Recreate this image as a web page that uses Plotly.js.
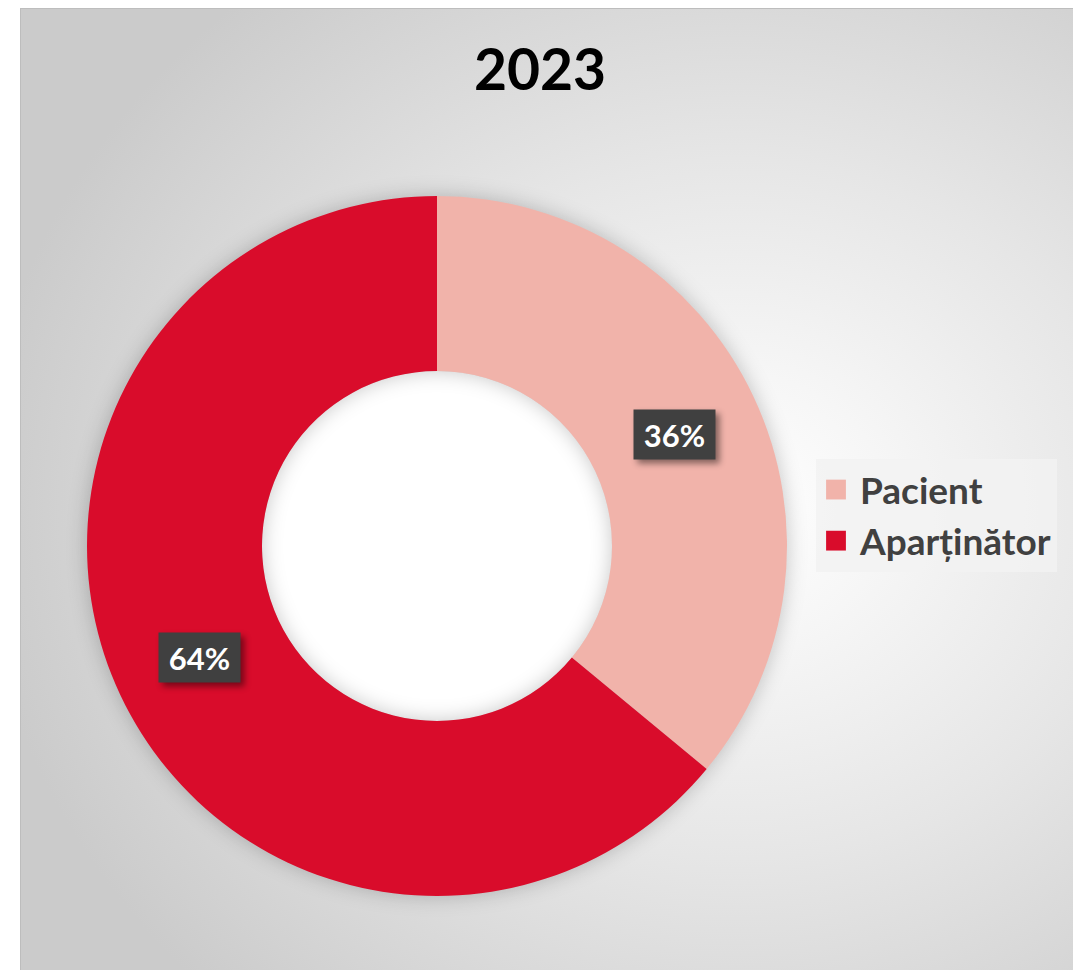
<!DOCTYPE html>
<html>
<head>
<meta charset="utf-8">
<script src="https://cdn.plot.ly/plotly-3.0.1.min.js"></script>
<style>
  html, body { margin: 0; padding: 0; background: #ffffff; }
  #bg {
    position: absolute; left: 20px; top: 8px; width: 1053px; height: 962px;
    background: radial-gradient(ellipse 72% 70% at 68% 52%, #ffffff 0%, #f6f6f6 20%, #e6e6e6 52%, #cbcbcb 100%);
    border-left: 1px solid #bdbdbd; border-top: 1px solid #bdbdbd; box-sizing: border-box;
  }
  #holebg { position: absolute; border-radius: 50%; background: #ffffff; }
  #chart { position: absolute; left: 0; top: 0; width: 1073px; height: 970px; }
  .pielayer { filter: drop-shadow(0px 0px 10px rgba(0,0,0,0.22)); }
  .annotation rect.bg { filter: drop-shadow(4px 4px 3px rgba(0,0,0,0.45)); }
  .legend path.legendpie { transform: translate(20px, 0px) scale(1.65); }
</style>
</head>
<body>
<div id="bg"></div>
<div id="holebg"></div>
<div id="chart"></div>
<script>
const titleText = '2023';
const categories = ['Pacient', 'Aparținător'];
const values = [36, 64];
const colors = ['#F1B3AA', '#D90C2B'];

const W = 1073, H = 970;
// donut geometry (pixels)
const cx = 437, cy = 546, R = 350, hole = 0.5;
const domainX = [(cx - R) / W, (cx + R) / W];
const domainY = [1 - (cy + R) / H, 1 - (cy - R) / H];

// white fill behind the donut hole
const hb = document.getElementById('holebg');
const hr = R * hole;
hb.style.left = (cx - hr) + 'px';
hb.style.top = (cy - hr) + 'px';
hb.style.width = (2 * hr) + 'px';
hb.style.height = (2 * hr) + 'px';

// label annotations placed at the middle of each slice (computed from values)
const total = values.reduce((a, b) => a + b, 0);
const annotations = [];
let acc = 0;
values.forEach((v, i) => {
  const mid = (acc + v / 2) / total * 2 * Math.PI;
  acc += v;
  const r = R * (1 + hole) / 2;
  const px = cx + r * Math.sin(mid);
  const py = cy - r * Math.cos(mid);
  annotations.push({
    xref: 'paper', yref: 'paper', x: px / W, y: 1 - py / H,
    xanchor: 'center', yanchor: 'middle', showarrow: false,
    text: '<b>' + Math.round(v / total * 100) + '%</b>',
    font: { family: 'Lato, sans-serif', size: 31, color: '#ffffff' },
    bgcolor: '#404040', borderpad: 5, width: 71, height: 39
  });
});

const trace = {
  type: 'pie',
  labels: categories,
  values: values,
  hole: hole,
  sort: false,
  direction: 'clockwise',
  rotation: 0,
  marker: { colors: colors, line: { width: 0 } },
  textinfo: 'none',
  hoverinfo: 'label+percent',
  domain: { x: domainX, y: domainY }
};

const layout = {
  width: W, height: H,
  margin: { l: 0, r: 0, t: 0, b: 0 },
  paper_bgcolor: 'rgba(0,0,0,0)',
  plot_bgcolor: 'rgba(0,0,0,0)',
  title: {
    text: '<b>' + titleText + '</b>',
    x: 540 / W, xanchor: 'center',
    y: 1 - 70 / H, yanchor: 'middle',
    font: { family: 'Lato, sans-serif', size: 57, color: '#000000' }
  },
  showlegend: true,
  legend: {
    x: 816 / W, xanchor: 'left',
    y: 1 - 459 / H, yanchor: 'top',
    bgcolor: 'rgba(242,242,242,0.85)',
    font: { family: 'Lato, sans-serif', size: 37, color: '#404040', weight: 'bold' },
    itemwidth: 34,
    traceorder: 'normal'
  },
  annotations: annotations
};

Plotly.newPlot('chart', [trace], layout, { displayModeBar: false, staticPlot: true });
</script>
</body>
</html>
